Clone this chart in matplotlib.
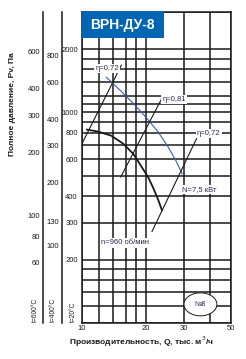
import matplotlib
matplotlib.use("Agg")
import matplotlib.pyplot as plt
import matplotlib.transforms as mtransforms
from matplotlib.patches import Rectangle, Ellipse
from matplotlib.lines import Line2D

plt.rcParams['font.family'] = ['Liberation Sans', 'DejaVu Sans']

# Данные
q_pressure = [10.55, 11.9, 13.7, 15.6, 17.4, 18.9, 20.4, 21.5, 22.7, 23.7]
p_pressure = [829, 811, 776, 711, 636, 558, 494, 442, 388, 344]

q_power = [13.0, 15.1, 17.4, 19.8, 22.7, 25.3, 27.6, 29.5]
p_power = [1470, 1274, 1104, 957, 811, 688, 589, 511]

q_eta_left = [10.0, 15.3]
p_eta_left = [711, 1678]
q_eta_mid = [15.2, 23.7]
p_eta_mid = [494, 1167]
q_eta_right = [21.3, 35.0]
p_eta_right = [272, 776]

x_grid = [10, 12, 14, 16, 18, 20, 30, 40, 50]
y_grid = [100, 120, 140, 160, 180, 200, 300, 400, 500, 600, 700, 800, 900,
          1000, 1100, 1200, 1400, 1600, 1800, 2000, 3000]
x_ticks = [10, 20, 30, 50]

# шкалы давления для разных температур
ticks_20 = [2000, 1000, 800, 600, 400, 300, 200]
ticks_400 = [800, 600, 400, 300, 200, 130, 100]
ticks_600 = [600, 400, 300, 200, 100, 80, 60]
k_400 = 2.3
k_600 = 3.2

fig = plt.figure(figsize=(2.46, 3.59), dpi=100)
ax = fig.add_axes([82 / 246, 36 / 359, 149 / 246, 311 / 359])
ax.set_xscale('log')
ax.set_yscale('log')
ax.set_xlim(10, 50)
ax.set_ylim(100, 3000)

for x in x_grid:
    ax.axvline(x, color='#1a1a1a', lw=1.1, zorder=1)
for y in y_grid:
    ax.axhline(y, color='#1a1a1a', lw=1.1, zorder=1)
for s in ax.spines.values():
    s.set_color('#1a1a1a')
    s.set_linewidth(1.1)

ax.minorticks_off()
ax.set_xticks(x_ticks)
ax.set_xticklabels([str(v) for v in x_ticks])
ax.set_yticks(ticks_20)
ax.set_yticklabels([str(v) for v in ticks_20])
ax.tick_params(length=0, labelsize=5.5, pad=3, colors='#1a1a1a')
ax.tick_params(axis='x', pad=1.5)

# кривые
ax.plot(q_pressure, p_pressure, color='#1a1a1a', lw=1.3, zorder=3)
ax.plot(q_power, p_power, color='#3a5fb0', lw=0.8, zorder=3)
ax.plot(q_eta_left, p_eta_left, color='#1a1a1a', lw=0.8, zorder=3)
ax.plot(q_eta_mid, p_eta_mid, color='#1a1a1a', lw=0.8, zorder=3)
ax.plot(q_eta_right, p_eta_right, color='#1a1a1a', lw=0.8, zorder=3)

box = dict(facecolor='white', edgecolor='none', pad=0.8)
lab = dict(fontsize=5.5, color='#2a2a55', zorder=4, bbox=box, va='center')
ax.text(13.1, 1620, 'η=0,72', ha='center', **lab)
ax.text(27.0, 1150, 'η=0,81', ha='center', **lab)
ax.text(39.3, 795, 'η=0,72', ha='center', **lab)
ax.text(29.4, 430, 'N=7,5 кВт', ha='left', **lab)
ax.text(12.3, 240, 'n=960 об/мин', ha='left', **lab)

# овал с номером
ax.add_patch(Ellipse((0.795, 0.06), 0.221, 0.074, transform=ax.transAxes,
                     facecolor='white', edgecolor='#1a1a1a', lw=0.7, zorder=4))
ax.text(0.795, 0.06, '№8', transform=ax.transAxes, ha='center', va='center',
        fontsize=5, color='#2a2a55', zorder=5)

# дополнительные шкалы слева
trans = mtransforms.blended_transform_factory(ax.transAxes, ax.transData)
for xpos in [-0.2617, -0.134]:
    ax.add_line(Line2D([xpos, xpos], [100, 3000], transform=trans,
                       color='#1a1a1a', lw=1.1, clip_on=False))
for v in ticks_400:
    ax.text(-0.154, v * k_400, str(v), transform=trans, ha='right',
            va='center', fontsize=5.5, color='#1a1a1a', clip_on=False)
for v in ticks_600:
    ax.text(-0.282, v * k_600, str(v), transform=trans, ha='right',
            va='center', fontsize=5.5, color='#1a1a1a', clip_on=False)

for xpos, t in [(-0.315, 't=600°C'), (-0.19, 't=400°C'), (-0.06, 't=20°C')]:
    ax.text(xpos, 0.003, t, transform=ax.transAxes, rotation=90,
            ha='center', va='bottom', fontsize=4.8, color='#1a1a1a')

# подписи осей
fig.text(0.049, 0.71, 'Полное давление, Pv, Па', rotation=90,
         ha='center', va='center', fontsize=6, fontweight='bold',
         color='#1a1a1a')
fig.text(0.575, 0.048, 'Производительность, Q, тыс. м$^3$/ч',
         ha='center', va='center', fontsize=6, fontweight='bold',
         color='#1a1a1a')

# заголовок в синем прямоугольнике
fig.add_artist(Rectangle((81 / 246, 321 / 359), 83 / 246, 27 / 359,
                         transform=fig.transFigure, facecolor='#0066b3',
                         edgecolor='none', zorder=5))
fig.text(122.5 / 246, (359 - 24.5) / 359, 'ВРН-ДУ-8', ha='center',
         va='center', fontsize=10, fontweight='bold', color='white',
         zorder=6)

fig.savefig('out.png', dpi=100)
